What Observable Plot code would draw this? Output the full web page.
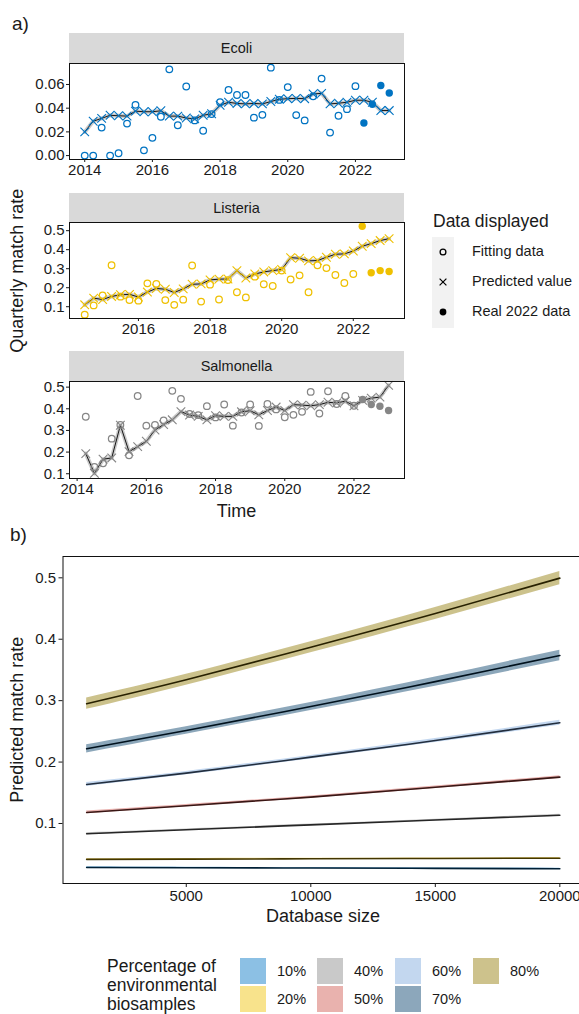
<!DOCTYPE html>
<html><head><meta charset="utf-8">
<script src="https://cdn.jsdelivr.net/npm/d3@7"></script>
<script src="https://cdn.jsdelivr.net/npm/@observablehq/plot@0.6"></script>
<style>
html,body{margin:0;padding:0;overflow:hidden;background:#fff;}
#root{position:relative;width:579px;height:1014px;overflow:hidden;font-family:"Liberation Sans",Arial,Helvetica,sans-serif;color:#1a1a1a;}
.t{position:absolute;white-space:nowrap;}
.strip{position:absolute;background:#D9D9D9;font-size:14.5px;display:flex;align-items:center;justify-content:center;color:#1a1a1a;}
.p{position:absolute;max-width:none !important;}
</style></head><body><div id="root"></div>
<script>
// ---------- Panel a data ----------
const quarters = [2014,2014.25,2014.5,2014.75,2015,2015.25,2015.5,2015.75,2016,2016.25,2016.5,2016.75,
  2017,2017.25,2017.5,2017.75,2018,2018.25,2018.5,2018.75,2019,2019.25,2019.5,2019.75,
  2020,2020.25,2020.5,2020.75,2021,2021.25,2021.5,2021.75,2022,2022.25,2022.5,2022.75,2023];
const realTime = [2022.25,2022.5,2022.75,2023];

const ecoliFit = [0.000,0.000,0.0236,0.000,0.002,0.027,0.0428,0.0044,0.015,0.0328,0.0728,0.0256,0.0583,0.0297,0.021,0.035,0.045,0.0553,0.0511,0.0511,0.032,0.0344,0.0742,0.047,0.0578,0.0342,0.0297,0.050,0.065,0.0194,0.0336,0.0392,0.0586];
const ecoliPred = [0.020,0.029,0.0314,0.034,0.0336,0.0333,0.0375,0.037,0.037,0.0378,0.0333,0.0333,0.0317,0.031,0.034,0.0353,0.0425,0.045,0.044,0.0436,0.044,0.0436,0.0456,0.0475,0.048,0.0483,0.048,0.052,0.0525,0.0436,0.0442,0.045,0.0467,0.0467,0.045,0.038,0.038];
const ecoliReal = [0.0275,0.0433,0.0592,0.0528];

const listeriaFit = [0.058,0.107,0.16,0.318,0.153,0.135,0.132,0.223,0.22,0.135,0.11,0.137,0.317,0.127,0.216,0.138,0.24,0.176,0.149,0.258,0.218,0.209,0.29,0.243,0.265,0.176,0.318,0.303,0.267,0.225,0.272];
const listeriaPred = [0.11,0.145,0.138,0.154,0.163,0.165,0.151,0.177,0.196,0.192,0.175,0.194,0.218,0.22,0.241,0.245,0.246,0.29,0.251,0.272,0.283,0.29,0.296,0.358,0.355,0.341,0.343,0.36,0.376,0.378,0.393,0.418,0.432,0.448,0.458];
const listeriaReal = [0.523,0.279,0.29,0.285];

const salmonellaFit = [0.363,0.131,0.148,0.262,0.325,0.185,0.459,0.322,0.326,0.346,0.483,0.446,0.376,0.371,0.412,0.36,0.42,0.322,0.383,0.42,0.321,0.422,0.397,0.361,0.372,0.386,0.478,0.378,0.481,0.422,0.459,0.414];
const salmonellaPred = [0.193,0.102,0.167,0.173,0.324,0.202,0.225,0.25,0.302,0.327,0.349,0.387,0.371,0.365,0.349,0.368,0.365,0.365,0.386,0.391,0.372,0.392,0.408,0.392,0.419,0.417,0.414,0.419,0.43,0.427,0.435,0.414,0.439,0.449,0.454,0.508];
const salmonellaReal = [0.443,0.42,0.412,0.392];

const species = ["Ecoli","Listeria","Salmonella"];
const speciesColors = ["#0073C2","#EFC000","#868686"];
const yearTicksA = [2014,2016,2018,2020,2022];
const yearTicksL = [2016,2018,2020,2022];
const ecoliYTicks = [0,0.02,0.04,0.06];
const rateYTicks = [0.1,0.2,0.3,0.4,0.5];
const legendA = ["Fitting data","Predicted value","Real 2022 data"];

// ---------- Panel b data ----------
const dbSize = [1000,5000,10000,15000,20000];
const pctCats = ["10%","20%","40%","50%","60%","70%","80%"];
const pctColors = ["#0073C2","#EFC000","#868686","#CD534C","#7AA6DC","#003C67","#8F7700"];
const pred10 = [0.0284,0.0280,0.0275,0.0269,0.0263];
const pred20 = [0.0415,0.0420,0.0425,0.0430,0.0435];
const pred40 = [0.0833,0.0898,0.0978,0.1057,0.1135];
const pred50 = [0.1180,0.1290,0.1430,0.1590,0.1755];
const pred60 = [0.1636,0.1820,0.2080,0.2350,0.2640];
const pred70 = [0.2216,0.2515,0.2905,0.3310,0.3735];
const pred80 = [0.2950,0.3340,0.3870,0.4420,0.4995];
const ci10 = [0.0010,0.0008,0.0008,0.0008,0.0010];
const ci20 = [0.0012,0.0010,0.0010,0.0010,0.0012];
const ci40 = [0.0016,0.0012,0.0012,0.0013,0.0016];
const ci50 = [0.0022,0.0018,0.0018,0.0020,0.0024];
const ci60 = [0.0032,0.0028,0.0028,0.0032,0.0040];
const ci70 = [0.0068,0.0062,0.0064,0.0074,0.0087];
const ci80 = [0.0092,0.0088,0.0090,0.0098,0.0108];
const dbTicks = [5000,10000,15000,20000];

// ---------- helpers ----------
const FONT = '"Liberation Sans", Arial, Helvetica, sans-serif';
const TICK = 15;
const root = document.getElementById("root");
function text(str, x, yc, size, opts = {}) {
  const d = document.createElement("div");
  d.className = "t";
  d.textContent = str;
  d.style.fontSize = size + "px";
  d.style.lineHeight = (size * 1.2) + "px";
  d.style.top = (yc - size * 0.6) + "px";
  if (opts.center) { d.style.left = (x - 300) + "px"; d.style.width = "600px"; d.style.textAlign = "center"; }
  else d.style.left = x + "px";
  if (opts.rotate) { d.style.transformOrigin = "300px " + (size*0.6) + "px"; d.style.transform = "rotate(-90deg)"; }
  root.appendChild(d);
  return d;
}
function place(node, left, top) {
  node.classList.add("p");
  node.style.left = left + "px";
  node.style.top = top + "px";
  node.style.maxWidth = "none";
  root.appendChild(node);
}
function strip(label, left, top, w, h) {
  const d = document.createElement("div");
  d.className = "strip";
  d.textContent = label;
  Object.assign(d.style, {left: left+"px", top: top+"px", width: w+"px", height: h+"px"});
  root.appendChild(d);
}

function facet(cfg) {
  const fit = cfg.fit.map((v,i) => ({t: cfg.fitT[i], v}));
  const pred = cfg.pred.map((v,i) => ({t: cfg.predT[i], v}));
  const real = cfg.real.map((v,i) => ({t: realTime[i], v}));
  return Plot.plot({
    width: 420, height: cfg.h,
    marginLeft: 69, marginRight: 16, marginTop: 5, marginBottom: cfg.h - 5 - cfg.ph,
    style: {fontFamily: FONT, fontSize: TICK + "px", color: "#1a1a1a", background: "transparent", overflow: "visible", maxWidth: "none"},
    x: {domain: cfg.xd},
    y: {domain: cfg.yd},
    marks: [
      Plot.lineY(pred, {x: "t", y: "v", stroke: "#9c9c9c", strokeOpacity: 0.55, strokeWidth: 4}),
      Plot.lineY(pred, {x: "t", y: "v", stroke: "#151515", strokeWidth: 1}),
      Plot.dot(pred, {x: "t", y: "v", symbol: "times", r: 4, stroke: cfg.color, strokeWidth: 1.1}),
      Plot.dot(fit, {x: "t", y: "v", r: 3.3, stroke: cfg.color, strokeWidth: 1.25, fill: "none"}),
      Plot.dot(real, {x: "t", y: "v", r: 3.7, fill: cfg.color, stroke: "none"}),
      Plot.frame({stroke: "#111", strokeWidth: 1}),
      Plot.axisX({ticks: cfg.xt, tickFormat: d => String(d), tickSize: 3, tickPadding: 2, label: null, fontSize: TICK}),
      Plot.axisY({ticks: cfg.yt, tickFormat: cfg.yf, tickSize: 3, tickPadding: 2, label: null, fontSize: TICK})
    ]
  });
}

// ---------- panel a ----------
text("a)", 12, 24, 19);

strip(species[0], 69, 33, 335, 30);
place(facet({fit: ecoliFit, fitT: quarters.slice(0, 33), pred: ecoliPred, predT: quarters, real: ecoliReal,
  color: speciesColors[0], xd: [2013.55, 2023.45], yd: [-0.0033, 0.0777], xt: yearTicksA, yt: ecoliYTicks,
  yf: d3.format(".2f"), h: 131, ph: 96}), 0, 58);

strip(species[1], 69, 193, 335, 29);
place(facet({fit: listeriaFit, fitT: quarters.slice(2, 33), pred: listeriaPred, predT: quarters.slice(2), real: listeriaReal,
  color: speciesColors[1], xd: [2014.075, 2023.43], yd: [0.038, 0.543], xt: yearTicksL, yt: rateYTicks,
  yf: d3.format(".1f"), h: 131, ph: 96}), 0, 217);

strip(species[2], 69, 351, 335, 30);
place(facet({fit: salmonellaFit, fitT: quarters.slice(1, 33), pred: salmonellaPred, predT: quarters.slice(1), real: salmonellaReal,
  color: speciesColors[2], xd: [2013.78, 2023.46], yd: [0.078, 0.526], xt: yearTicksA, yt: rateYTicks,
  yf: d3.format(".1f"), h: 132, ph: 97}), 0, 376);

text("Quarterly match rate", 18, 271, 18, {center: true, rotate: true});
text("Time", 236.5, 512, 18, {center: true});

// legend a
text("Data displayed", 433, 221, 17.5);
const keyBg = document.createElement("div");
Object.assign(keyBg.style, {position: "absolute", left: "432px", top: "237px", width: "22px", height: "91px", background: "#F2F2F2"});
root.appendChild(keyBg);
const keyY = [252, 282, 312];
const ns = "http://www.w3.org/2000/svg";
legendA.forEach((lab, i) => {
  const s = document.createElementNS(ns, "svg");
  s.setAttribute("width", 14); s.setAttribute("height", 14);
  s.style.position = "absolute"; s.style.left = "436px"; s.style.top = (keyY[i] - 7) + "px";
  let m;
  if (i === 0) { m = document.createElementNS(ns, "circle"); m.setAttribute("cx", 7); m.setAttribute("cy", 7); m.setAttribute("r", 2.9); m.setAttribute("fill", "none"); m.setAttribute("stroke", "#000"); m.setAttribute("stroke-width", 1.3); }
  else if (i === 1) { m = document.createElementNS(ns, "path"); m.setAttribute("d", "M3.6,3.6L10.4,10.4M3.6,10.4L10.4,3.6"); m.setAttribute("stroke", "#000"); m.setAttribute("stroke-width", 1.2); }
  else { m = document.createElementNS(ns, "circle"); m.setAttribute("cx", 7); m.setAttribute("cy", 7); m.setAttribute("r", 3.4); m.setAttribute("fill", "#000"); }
  s.appendChild(m);
  root.appendChild(s);
  text(lab, 472, keyY[i], 14.5);
});

// ---------- panel b ----------
text("b)", 10, 535, 19);
const predB = [pred10, pred20, pred40, pred50, pred60, pred70, pred80];
const ciB = [ci10, ci20, ci40, ci50, ci60, ci70, ci80];
const rowsB = pctCats.flatMap((c, k) => dbSize.map((x, i) => ({cat: c, x, y: predB[k][i], lo: predB[k][i] - ciB[k][i], hi: predB[k][i] + ciB[k][i]})));
const darkColor = c => d3.interpolateRgb(c, "#000")(0.72);
const bMarks = [
  Plot.areaY(rowsB, {x: "x", y1: "lo", y2: "hi", z: "cat", fill: "cat", fillOpacity: 0.45, curve: "natural"}),
  ...pctCats.map((c, k) => Plot.line(rowsB.filter(d => d.cat === c), {x: "x", y: "y", stroke: darkColor(pctColors[k]), strokeWidth: 1.6, curve: "natural"})),
  Plot.frame({stroke: "#111", strokeWidth: 1}),
  Plot.axisX({ticks: dbTicks, tickFormat: d => String(d), tickSize: 4, tickPadding: 3, label: null, fontSize: TICK}),
  Plot.axisY({ticks: rateYTicks, tickFormat: d3.format(".1f"), tickSize: 4, tickPadding: 3, label: null, fontSize: TICK})
];
place(Plot.plot({
  width: 600, height: 372, marginLeft: 62.5, marginRight: 17, marginTop: 5, marginBottom: 40,
  style: {fontFamily: FONT, fontSize: TICK + "px", color: "#1a1a1a", background: "transparent", overflow: "visible", maxWidth: "none"},
  x: {domain: [50, 20950]},
  y: {domain: [0.0023, 0.5347]},
  color: {domain: pctCats, range: pctColors},
  marks: bMarks
}), 0, 551);

text("Predicted match rate", 18, 720, 18, {center: true, rotate: true});
text("Database size", 323, 917, 18, {center: true});

// legend b
const lt = ["Percentage of", "environmental", "biosamples"];
lt.forEach((s, i) => text(s, 107, 966 + i * 19, 17.5));
const colX = [239, 316, 394, 472];
const rowY = [957, 985];
pctCats.forEach((c, k) => {
  const col = Math.floor(k / 2), row = k % 2;
  const sw = document.createElement("div");
  Object.assign(sw.style, {position: "absolute", left: colX[col] + "px", top: rowY[row] + "px", width: "28px", height: "28px",
    background: d3.interpolateRgb("#fff", pctColors[k])(0.45), boxSizing: "border-box", border: "1px solid #fff"});
  root.appendChild(sw);
  text(c, colX[col] + 38, rowY[row] + 15, 14.5);
});
</script></body></html>
